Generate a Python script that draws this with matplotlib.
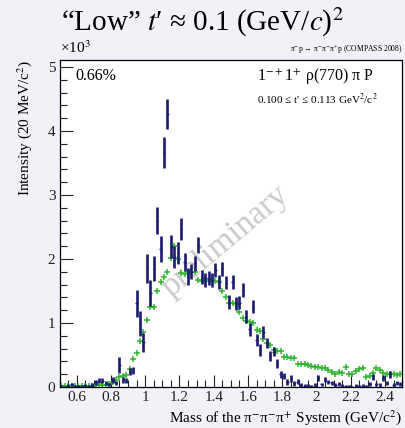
"""
Low-t' partial-wave intensity: 1-+1+ rho(770) pi P wave, 20 MeV mass bins.
Blue = fit result with errors, green = model (small crosses).
"""

import matplotlib

matplotlib.use("Agg")
import matplotlib.pyplot as plt
import matplotlib.ticker as mticker
import numpy as np

plt.rcParams["font.family"] = ["Liberation Serif", "DejaVu Serif"]
plt.rcParams["mathtext.fontset"] = "stix"

# ---- data ------------------------------------------------------------------

BIN_WIDTH = 0.02
MASS_LO = 0.51
N_BINS = 100

# 3pi mass bin centres, GeV/c^2
mass = MASS_LO + BIN_WIDTH * np.arange(N_BINS)

# intensity of the fit result per bin
intensity = [
    10, 5, 20, 42, 10, 15, 10, 20, 15, 30,
    73, 99, 95, 57, 40, 110, 60, 344, 110, 99,
    240, 255, 1307, 995, 700, 1854, 1470, 1850, 2599, 2156,
    3667, 4266, 2193, 2036, 2089, 2469, 1948, 1724, 1802, 1932,
    2219, 1724, 1672, 1698, 1672, 1828, 1646, 1849, 1630, 1330,
    1640, 1307, 1318, 1516, 1099, 900, 1255, 734, 578, 865,
    682, 490, 552, 370, 198, 172, 80, 135, 60, 80,
    30, 20, 25, 10, 30, 135, 40, 120, 80, 60,
    30, 50, 20, 10, 10, 5, 20, 10, 20, 15,
    50, 160, 40, 30, 135, 60, 198, 30, 60, 50,
]

intensity_err = [
    15, 10, 20, 25, 15, 15, 15, 20, 15, 25,
    35, 40, 40, 30, 30, 40, 35, 125, 40, 40,
    50, 50, 208, 200, 150, 229, 200, 200, 208, 200,
    245, 235, 180, 170, 170, 165, 140, 130, 120, 120,
    130, 110, 110, 110, 110, 110, 110, 110, 105, 105,
    105, 105, 105, 105, 100, 100, 100, 100, 95, 95,
    80, 78, 75, 70, 55, 50, 45, 50, 40, 40,
    30, 25, 25, 20, 25, 45, 30, 40, 35, 30,
    25, 30, 20, 15, 15, 15, 20, 15, 20, 15,
    30, 50, 30, 25, 45, 30, 55, 25, 30, 30,
]

# model intensity per bin
model = [
    10, 10, 12, 12, 15, 15, 15, 18, 20, 20,
    25, 25, 30, 35, 50, 80, 110, 151, 172, 188,
    276, 432, 526, 724, 865, 1047, 1245, 1255, 1500, 1646,
    1724, 1792, 2010, 2200, 2000, 1780, 1770, 1790, 1800, 1790,
    1670, 1650, 1680, 1660, 1680, 1660, 1640, 1495, 1400, 1320,
    1305, 1290, 1167, 1073, 1036, 1020, 995, 890, 875, 750,
    682, 656, 578, 563, 563, 474, 464, 448, 448, 359,
    359, 354, 345, 330, 310, 318, 302, 292, 266, 229,
    203, 229, 215, 307, 203, 200, 250, 276, 302, 161,
    172, 214, 292, 266, 214, 203, 203, 203, 188, 203,
]

y_ticks = [0, 1000, 2000, 3000, 4000, 5000]
y_tick_labels = ["0", "1", "2", "3", "4", "5"]

DATA_COLOR = "#1b1b70"
MODEL_COLOR = "#2fb52f"
BG_COLOR = "#f1f2f7"


def _mass_label(x, _):
    return f"{x:g}"


# ---- plot ------------------------------------------------------------------

fig = plt.figure(figsize=(4.05, 4.28), dpi=100, facecolor=BG_COLOR)
ax = fig.add_axes([0.147, 0.0958, 0.846, 0.764])
ax.set_facecolor("white")

# thick vertical error bars, thin horizontal bin marks
ax.errorbar(
    mass, intensity, yerr=intensity_err,
    fmt="none", ecolor=DATA_COLOR, elinewidth=1.9, capsize=0, zorder=3,
)
ax.errorbar(
    mass, intensity, xerr=BIN_WIDTH * 0.35,
    fmt="none", ecolor=DATA_COLOR, elinewidth=1.0, capsize=0, zorder=3,
)
ax.plot(mass, model, "+", color=MODEL_COLOR, ms=3.8, mew=1.1, zorder=2)

ax.set_xlim(0.5, 2.5)
ax.set_ylim(0, 5110)

ax.xaxis.set_major_locator(mticker.MultipleLocator(0.2))
ax.xaxis.set_minor_locator(mticker.MultipleLocator(0.05))
ax.xaxis.set_major_formatter(mticker.FuncFormatter(_mass_label))
ax.set_yticks(y_ticks)
ax.set_yticklabels(y_tick_labels)
ax.yaxis.set_minor_locator(mticker.MultipleLocator(200))

ax.tick_params(which="both", direction="in", top=False, right=False,
               labelsize=11, width=0.8, colors="#222222")
ax.tick_params(which="major", length=9, pad=3)
ax.tick_params(which="minor", length=5)
for spine in ax.spines.values():
    spine.set_linewidth(0.9)

ax.set_xlabel(r"Mass of the π$^{-}$π$^{-}$π$^{+}$ System (GeV/c$^{2}$)",
              loc="right", fontsize=11, labelpad=3)
ax.set_ylabel(r"Intensity (20 MeV/c$^{2}$)", loc="top", fontsize=11, labelpad=10)

ax.text(0.0, 1.012, r"×10$^{3}$", transform=ax.transAxes, fontsize=11,
        ha="left", va="bottom")
ax.text(1.0, 1.012, r"π$^{-}$p → π$^{-}$π$^{-}$π$^{+}$p (COMPASS 2008)",
        transform=ax.transAxes, fontsize=5.5, ha="right", va="bottom")
ax.text(0.045, 0.95, "0.66%", transform=ax.transAxes, fontsize=11.5,
        ha="left", va="center")
ax.text(0.575, 0.95, r"1$^{-+}$1$^{+}$ ρ(770) π P", transform=ax.transAxes,
        fontsize=11.5, ha="left", va="center")
ax.text(0.575, 0.88, r"0.100 ≤ t' ≤ 0.113 GeV$^{2}$/c$^{2}$",
        transform=ax.transAxes, fontsize=8, ha="left", va="center")

ax.text(1.47, 2270, "preliminary", fontsize=24, color="#cacaca",
        rotation=40, ha="center", va="center", rotation_mode="anchor", zorder=1)

fig.text(0.5, 0.948, r"“Low” $t$′ ≈ 0.1 (GeV/$c$)$^{2}$",
         fontsize=21, ha="center", va="center")

fig.savefig("out.png", dpi=100, facecolor=BG_COLOR)
